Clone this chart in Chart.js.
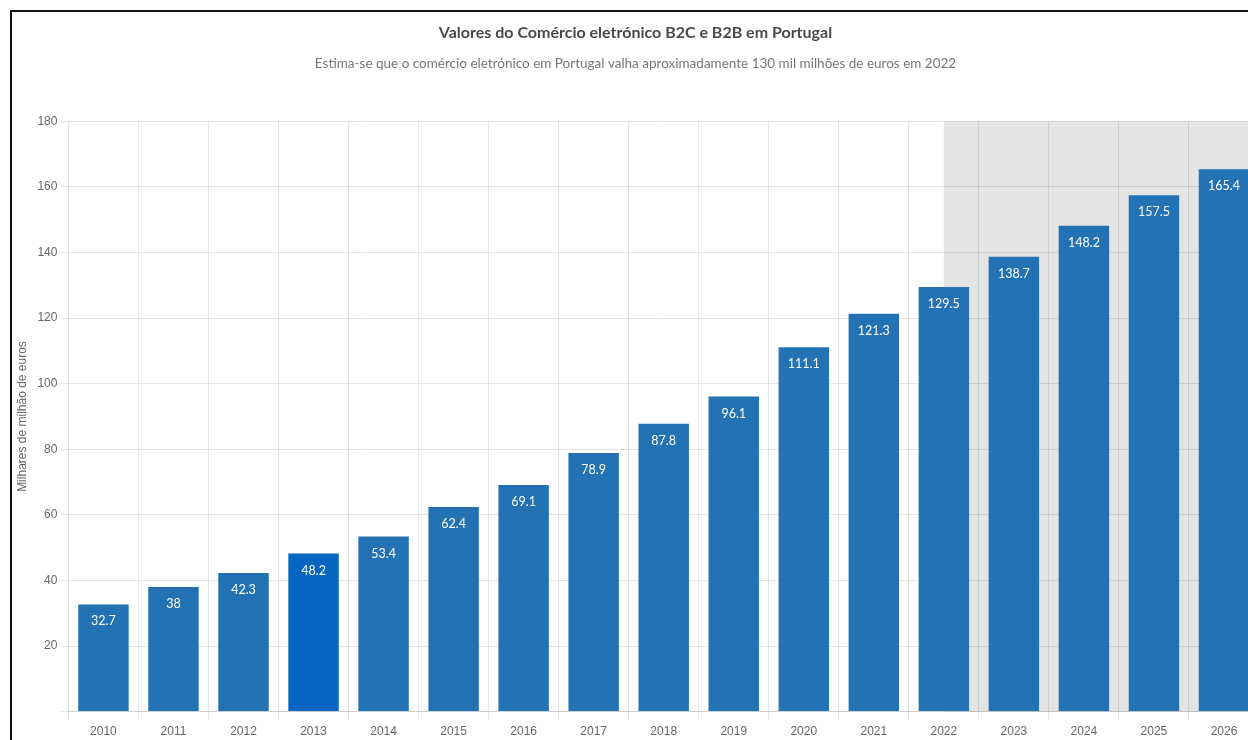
<!DOCTYPE html>
<html lang="pt">
<head>
<meta charset="utf-8">
<title>Valores do Comércio eletrónico B2C e B2B em Portugal</title>
<script src="https://cdn.jsdelivr.net/npm/chart.js@4/dist/chart.umd.min.js"></script>
<style>
    html, body { margin: 0; padding: 0; background: #fff; overflow: hidden; }
    .frame {
        position: absolute; left: 10px; top: 10px;
        width: 1250px; height: 760px;
        border-top: 2px solid #111; border-left: 2px solid #111;
    }
    .chart-box { position: relative; width: 1248px; height: 736px; }
</style>
</head>
<body>
<div class="frame">
    <div class="chart-box"><canvas id="ecommerceChart"></canvas></div>
</div>
<script>
var years = ['2010', '2011', '2012', '2013', '2014', '2015', '2016', '2017', '2018',
    '2019', '2020', '2021', '2022', '2023', '2024', '2025', '2026'];
var values = [32.7, 38, 42.3, 48.2, 53.4, 62.4, 69.1, 78.9, 87.8,
    96.1, 111.1, 121.3, 129.5, 138.7, 148.2, 157.5, 165.4];
var highlightYear = '2013';
var forecastFrom = '2022';

var barColors = years.map(function (y) {
    return y === highlightYear ? '#0466c0' : '#2272b4';
});

// grey band behind the estimated years
var forecastBand = {
    id: 'forecastBand',
    beforeDraw: function (chart) {
        var area = chart.chartArea;
        var x = chart.scales.x.getPixelForValue(years.indexOf(forecastFrom));
        var ctx = chart.ctx;
        ctx.save();
        ctx.fillStyle = '#e4e4e4';
        ctx.fillRect(x, area.top, area.right - x, area.bottom - area.top);
        ctx.restore();
    }
};

// value written inside the top of each bar
var barValues = {
    id: 'barValues',
    afterDatasetsDraw: function (chart) {
        var ctx = chart.ctx;
        var meta = chart.getDatasetMeta(0);
        ctx.save();
        ctx.fillStyle = '#fff';
        ctx.font = '12.5px Lato, sans-serif';
        ctx.textAlign = 'center';
        ctx.textBaseline = 'middle';
        meta.data.forEach(function (bar, i) {
            ctx.fillText(String(values[i]), bar.x, bar.y + 17);
        });
        ctx.restore();
    }
};

var ctx = document.getElementById('ecommerceChart').getContext('2d');
new Chart(ctx, {
    type: 'bar',
    data: {
        labels: years,
        datasets: [{
            label: 'Comércio eletrónico',
            data: values,
            backgroundColor: barColors,
            borderWidth: 0,
            barPercentage: 0.9,
            categoryPercentage: 0.8
        }]
    },
    options: {
        responsive: true,
        maintainAspectRatio: false,
        animation: false,
        layout: { padding: { left: 0, right: 1, top: 0, bottom: 4 } },
        plugins: {
            legend: { display: false },
            tooltip: { enabled: false },
            title: {
                display: true,
                text: 'Valores do Comércio eletrónico B2C e B2B em Portugal',
                color: '#4a4a4a',
                font: { family: 'Lato, sans-serif', size: 16, weight: 'bold' },
                padding: { top: 11, bottom: 13 }
            },
            subtitle: {
                display: true,
                text: 'Estima-se que o comércio eletrónico em Portugal valha aproximadamente 130 mil milhões de euros em 2022',
                color: '#777',
                font: { family: 'Lato, sans-serif', size: 13.5 },
                padding: { top: 0, bottom: 50 }
            }
        },
        scales: {
            x: {
                grid: { color: 'rgba(0,0,0,0.1)', tickLength: 8 },
                ticks: {
                    color: '#666',
                    padding: 5,
                    font: { family: '"Liberation Sans", Arial, sans-serif', size: 12 }
                }
            },
            y: {
                min: 0,
                max: 180,
                grid: { color: 'rgba(0,0,0,0.1)', tickLength: 8 },
                border: { display: false },
                title: {
                    display: true,
                    text: 'Milhares de milhão de euros',
                    color: '#666',
                    padding: { top: 3, bottom: 5 },
                    font: { family: '"Liberation Sans", Arial, sans-serif', size: 12 }
                },
                ticks: {
                    stepSize: 20,
                    color: '#666',
                    padding: 3,
                    font: { family: '"Liberation Sans", Arial, sans-serif', size: 12 },
                    callback: function (v) { return v === 0 ? '' : v; }
                }
            }
        }
    },
    plugins: [forecastBand, barValues]
});
</script>
</body>
</html>
